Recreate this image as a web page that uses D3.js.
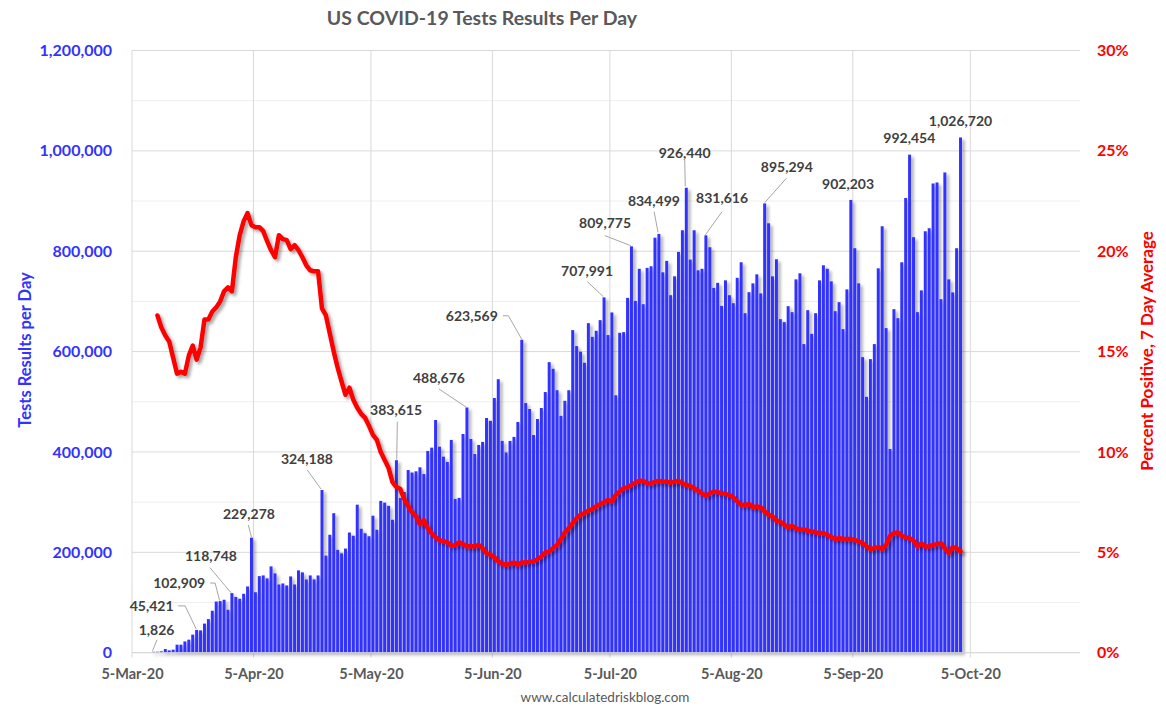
<!DOCTYPE html>
<html>
<head>
<meta charset="utf-8">
<script src="https://cdn.jsdelivr.net/npm/d3@7"></script>
<style>
  body { margin: 0; background: #fff; }
  svg { display: block; font-family: Lato, "Open Sans", sans-serif; }
</style>
</head>
<body>
<svg id="chart" width="1166" height="717"></svg>
<script>
// first bar is 10-Mar-20, one bar per day
const firstDay = Date.UTC(2020, 2, 10);
const dayMs = 24 * 3600 * 1000;

const tests = [
    1826, 2000, 2700, 7300, 4600, 6000, 16000, 16000, 22500, 26000,
    36000, 45421, 44500, 58000, 67000, 83600, 102000, 102909, 105500, 85600,
    118748, 111000, 107500, 117400, 132000, 229278, 120500, 152600, 154000, 148000,
    172000, 158000, 136000, 138000, 134000, 152000, 136000, 164000, 160000, 146000,
    154000, 146000, 154000, 324188, 193500, 235000, 278000, 205000, 198000, 207500,
    239500, 233000, 295000, 247000, 238000, 232000, 273000, 245000, 302500, 299000,
    292500, 265000, 383615, 308500, 320000, 364000, 359000, 361500, 369500, 356000,
    402000, 408600, 463700, 410600, 390700, 380000, 424000, 306500, 308500, 435800,
    488676, 426000, 396000, 414000, 420000, 467700, 462000, 507500, 545000, 422000,
    399000, 422000, 430000, 459700, 623569, 497500, 485600, 433800, 465700, 487600,
    519400, 579000, 565800, 523000, 472000, 502000, 523000, 642800, 611000, 599700,
    577800, 656700, 629500, 641500, 662700, 707991, 633000, 678000, 513000, 637500,
    638800, 707000, 809775, 701000, 765000, 694500, 766800, 770000, 827000, 834499,
    758000, 780800, 712400, 750000, 798700, 841800, 926440, 783400, 841800, 762000,
    765000, 831616, 808000, 727000, 737000, 691000, 742000, 712400, 696500, 747000,
    778000, 676600, 718400, 736000, 754000, 716000, 895294, 855700, 750000, 784000,
    664700, 658700, 690500, 678600, 744000, 756000, 615000, 682600, 635500, 676600,
    742000, 772000, 765000, 740000, 680600, 698500, 644800, 724000, 902203, 806000,
    736000, 589000, 510000, 585000, 615000, 766000, 849800, 646800, 406000, 684600,
    666700, 778000, 906000, 992454, 828000, 678600, 722000, 839800, 845800, 935000,
    937000, 704500, 957000, 744000, 718000, 806000, 1026720
];

// percent positive, 7 day average (no value for the first day)
const pctPositive = [
    null, 16.8, 16.2, 15.8, 15.5, 14.7, 13.9, 14.0, 13.9, 14.8,
    15.3, 14.6, 15.2, 16.6, 16.6, 17.0, 17.2, 17.5, 18.0, 18.2,
    18.0, 19.7, 20.8, 21.5, 21.9, 21.3, 21.2, 21.2, 21.0, 20.5,
    20.05, 19.7, 20.8, 20.6, 20.55, 20.1, 20.3, 20.05, 19.7, 19.3,
    19.05, 19.0, 19.0, 17.15, 16.8, 15.9, 15.0, 14.2, 13.5, 12.85,
    13.2, 12.6, 12.2, 11.9, 11.7, 11.3, 10.85, 10.6, 10.0, 9.6,
    9.2, 8.5, 8.25, 8.15, 7.65, 7.3, 7.0, 6.8, 6.4, 6.6,
    6.2, 5.95, 5.75, 5.6, 5.55, 5.5, 5.32, 5.36, 5.5, 5.4,
    5.3, 5.3, 5.3, 5.37, 5.2, 4.95, 4.88, 4.75, 4.55, 4.43,
    4.38, 4.43, 4.49, 4.38, 4.49, 4.49, 4.54, 4.54, 4.66, 4.79,
    4.99, 5.04, 5.21, 5.37, 5.66, 5.99, 6.2, 6.45, 6.7, 6.87,
    6.95, 7.08, 7.15, 7.3, 7.4, 7.5, 7.61, 7.53, 7.86, 8.03,
    8.19, 8.24, 8.36, 8.47, 8.57, 8.56, 8.44, 8.43, 8.52, 8.56,
    8.52, 8.52, 8.47, 8.52, 8.56, 8.44, 8.36, 8.31, 8.19, 8.07,
    7.94, 7.81, 7.94, 8.03, 8.0, 7.95, 7.91, 7.85, 7.75, 7.53,
    7.36, 7.36, 7.41, 7.25, 7.28, 7.25, 7.03, 6.87, 6.78, 6.58,
    6.53, 6.37, 6.25, 6.32, 6.2, 6.12, 6.15, 6.07, 6.05, 5.99,
    5.96, 5.96, 5.87, 5.76, 5.67, 5.7, 5.68, 5.67, 5.66, 5.62,
    5.54, 5.46, 5.29, 5.17, 5.21, 5.26, 5.16, 5.37, 5.82, 5.96,
    5.99, 5.82, 5.76, 5.7, 5.59, 5.29, 5.46, 5.29, 5.29, 5.37,
    5.41, 5.46, 5.21, 4.96, 5.26, 5.21, 5.04
];

const leftTicks = [0, 200000, 400000, 600000, 800000, 1000000, 1200000];
const rightTicks = [0, 5, 10, 15, 20, 25, 30];
const dateTicks = ["2020-03-05", "2020-04-05", "2020-05-05", "2020-06-05",
                   "2020-07-05", "2020-08-05", "2020-09-05", "2020-10-05"];

// which bars get a value label; offsets (px) are from the bar top
const labelMarks = [
    { i: 0,   dx: 3,     dy: -22,   leader: [[3.5, -12], [-1, -1]] },
    { i: 11,  dx: -45,   dy: -23.5, leader: [[-18.5, -24], [-11.5, -24], [-0.5, -1]] },
    { i: 17,  dx: -41,   dy: -18,   leader: [[-10, -18], [-5, -18], [-0.5, -0.5]] },
    { i: 20,  dx: -21,   dy: -37,   leader: [[-22, -25.5], [-1, -0.5]] },
    { i: 25,  dx: -2.5,  dy: -23.3, leader: [[-3.2, -12.6], [0, -0.5]] },
    { i: 43,  dx: -15,   dy: -30.7, leader: [[-14.7, -20], [-1, -1]] },
    { i: 62,  dx: -0.4,  dy: -50.2, leader: [[0.9, -38.5], [0.3, -0.5]] },
    { i: 80,  dx: -28,   dy: -29.2, leader: [[-28, -18.5], [-1, -0.5]] },
    { i: 94,  dx: -50,   dy: -24,   leader: [[-19, -24], [-13.4, -24], [0, -0.5]] },
    { i: 115, dx: -17,   dy: -26.7, leader: [[-16.7, -15.7], [-0.7, -0.7]] },
    { i: 122, dx: -26.4, dy: -23.4, leader: [[-26.7, -10.7], [-0.7, -0.7]] },
    { i: 129, dx: -5,    dy: -33.3, leader: [[-4.8, -22.3], [-0.8, -1.5]] },
    { i: 136, dx: -1.6,  dy: -34.5, leader: [[-1.6, -27.8], [-1, -1.5]] },
    { i: 141, dx: 16.2,  dy: -37.5, leader: [[16.2, -23.7], [-0.5, -0.5]] },
    { i: 156, dx: 22.2,  dy: -36.1, leader: [[21.7, -25.1], [0, -0.7]] },
    { i: 178, dx: -2.8,  dy: -16 },
    { i: 193, dx: -0.3,  dy: -16.3 },
    { i: 206, dx: 0,     dy: -16.4 }
];

const plot = { left: 132, right: 1080, top: 50.5, bottom: 652.7 };
const barBlue = "#3333ff";
const lineRed = "#ff0000";

let svg = d3.select("#chart");

let defs = svg.append("defs");
let shadow = defs.append("filter").attr("id", "shadow")
    .attr("x", "-5%").attr("y", "-5%").attr("width", "115%").attr("height", "115%");
shadow.append("feDropShadow")
    .attr("dx", 2.5).attr("dy", 2.5).attr("stdDeviation", 1.8)
    .attr("flood-color", "#000").attr("flood-opacity", 0.35);

let x = d3.scaleUtc()
    .domain([Date.UTC(2020, 2, 5), Date.UTC(2020, 10, 2)])
    .range([plot.left, plot.right]);
let y = d3.scaleLinear().domain([0, 1200000]).range([plot.bottom, plot.top]);
let y2 = d3.scaleLinear().domain([0, 30]).range([plot.bottom, plot.top]);

let dayW = x(firstDay + dayMs) - x(firstDay);
let barX = i => x(firstDay + i * dayMs + dayMs / 2);   // bar centre
let tickDates = dateTicks.map(d => new Date(d + "T00:00:00Z"));

// gridlines: minor every 100k, major every 200k, vertical on month ticks
let grid = svg.append("g");
grid.selectAll(".minor")
    .data(d3.range(100000, 1200000, 200000))
    .join("line")
    .attr("x1", plot.left).attr("x2", plot.right)
    .attr("y1", d => y(d)).attr("y2", d => y(d))
    .attr("stroke", "#eeeeee").attr("stroke-width", 1);
grid.selectAll(".major")
    .data(leftTicks)
    .join("line")
    .attr("x1", plot.left).attr("x2", plot.right)
    .attr("y1", d => y(d)).attr("y2", d => y(d))
    .attr("stroke", "#d9d9d9").attr("stroke-width", 1);
grid.selectAll(".vert")
    .data(tickDates)
    .join("line")
    .attr("x1", d => x(d)).attr("x2", d => x(d))
    .attr("y1", plot.top).attr("y2", plot.bottom + 5)
    .attr("stroke", "#d9d9d9").attr("stroke-width", 1);

// bars
svg.append("g")
    .attr("filter", "url(#shadow)")
    .selectAll("rect")
    .data(tests)
    .join("rect")
    .attr("x", (d, i) => barX(i) - dayW * 0.38)
    .attr("width", dayW * 0.76)
    .attr("y", d => y(d))
    .attr("height", d => plot.bottom - y(d))
    .attr("fill", barBlue);

// percent positive line
let line = d3.line()
    .defined(d => d != null)
    .x((d, i) => barX(i))
    .y(d => y2(d));
svg.append("path")
    .datum(pctPositive)
    .attr("d", line)
    .attr("fill", "none")
    .attr("stroke", lineRed)
    .attr("stroke-width", 4.5)
    .attr("stroke-linejoin", "round")
    .attr("stroke-linecap", "round")
    .attr("filter", "url(#shadow)");

// value labels with leader lines
let fmt = d3.format(",");
let lab = svg.append("g");
labelMarks.forEach(m => {
    let bx = barX(m.i), by = y(tests[m.i]);
    if (m.leader) {
        let pts = m.leader.map(p => [bx + p[0], by + p[1]]);
        lab.append("path")
            .attr("d", d3.line()(pts))
            .attr("fill", "none")
            .attr("stroke", "#a6a6a6")
            .attr("stroke-width", 1);
    }
    lab.append("text")
        .attr("x", bx + m.dx)
        .attr("y", by + m.dy)
        .attr("dy", "0.35em")
        .attr("text-anchor", "middle")
        .attr("font-size", 14)
        .attr("font-weight", "bold")
        .attr("fill", "#404040")
        .text(fmt(tests[m.i]));
});

// axes
let leftAxis = svg.append("g")
    .attr("transform", `translate(${plot.left},0)`)
    .call(d3.axisLeft(y).tickValues(leftTicks).tickFormat(fmt).tickSize(0).tickPadding(20));
let rightAxis = svg.append("g")
    .attr("transform", `translate(${plot.right},0)`)
    .call(d3.axisRight(y2).tickValues(rightTicks).tickFormat(d => d + "%").tickSize(0).tickPadding(17));
let bottomAxis = svg.append("g")
    .attr("transform", `translate(0,${plot.bottom})`)
    .call(d3.axisBottom(x).tickValues(tickDates).tickFormat(d3.utcFormat("%-d-%b-%y"))
        .tickSize(0).tickPadding(16));

[leftAxis, rightAxis, bottomAxis].forEach(a => a.select(".domain").remove());
leftAxis.selectAll("text")
    .attr("font-size", 16).attr("font-weight", "bold").attr("fill", barBlue)
    .attr("font-family", "Lato, sans-serif");
rightAxis.selectAll("text")
    .attr("font-size", 16).attr("font-weight", "bold").attr("fill", lineRed)
    .attr("font-family", "Lato, sans-serif");
bottomAxis.selectAll("text")
    .attr("font-size", 14.5).attr("font-weight", "bold").attr("fill", "#595959")
    .attr("font-family", "Lato, sans-serif");

// baseline
svg.append("line")
    .attr("x1", plot.left).attr("x2", plot.right)
    .attr("y1", plot.bottom).attr("y2", plot.bottom)
    .attr("stroke", "#d9d9d9");

// titles
svg.append("text")
    .attr("x", 482).attr("y", 18).attr("dy", "0.35em")
    .attr("text-anchor", "middle")
    .attr("font-size", 19.5).attr("font-weight", "bold").attr("fill", "#595959")
    .text("US COVID-19 Tests Results Per Day");

svg.append("text")
    .attr("transform", "translate(25,350) rotate(-90)")
    .attr("dy", "0.35em")
    .attr("text-anchor", "middle")
    .attr("font-size", 16.5).attr("font-weight", "bold").attr("fill", barBlue)
    .text("Tests Results per Day");

svg.append("text")
    .attr("transform", "translate(1147,351) rotate(-90)")
    .attr("dy", "0.35em")
    .attr("text-anchor", "middle")
    .attr("font-size", 17).attr("font-weight", "bold").attr("fill", lineRed)
    .text("Percent Positive, 7 Day Average");

svg.append("text")
    .attr("x", 605).attr("y", 697).attr("dy", "0.35em")
    .attr("text-anchor", "middle")
    .attr("font-size", 13.5).attr("fill", "#595959")
    .text("www.calculatedriskblog.com");
</script>
</body>
</html>
